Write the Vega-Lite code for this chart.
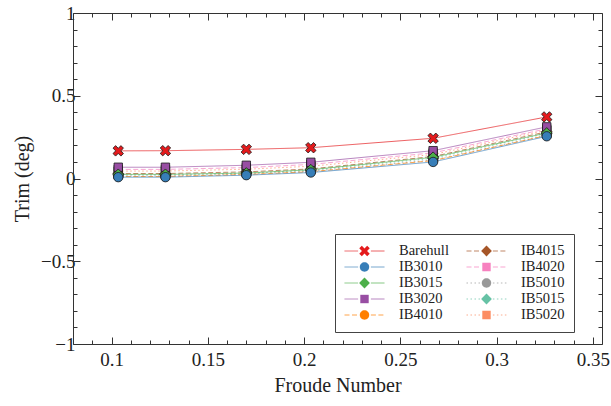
{
  "$schema": "https://vega.github.io/schema/vega-lite/v6.json",
  "autosize": {"type": "none"},
  "padding": {"left": 73, "top": 13, "right": 9, "bottom": 62},
  "width": 529,
  "height": 331,
  "background": "white",
  "data": {
    "values": [
      {"series": "IB5020", "fr": 0.1035, "trim": 0.045}, {"series": "IB5020", "fr": 0.128, "trim": 0.045}, {"series": "IB5020", "fr": 0.17, "trim": 0.056}, {"series": "IB5020", "fr": 0.2035, "trim": 0.074}, {"series": "IB5020", "fr": 0.267, "trim": 0.145}, {"series": "IB5020", "fr": 0.326, "trim": 0.292},
      {"series": "IB5015", "fr": 0.1035, "trim": 0.022}, {"series": "IB5015", "fr": 0.128, "trim": 0.022}, {"series": "IB5015", "fr": 0.17, "trim": 0.032}, {"series": "IB5015", "fr": 0.2035, "trim": 0.05}, {"series": "IB5015", "fr": 0.267, "trim": 0.122}, {"series": "IB5015", "fr": 0.326, "trim": 0.272},
      {"series": "IB5010", "fr": 0.1035, "trim": 0.015}, {"series": "IB5010", "fr": 0.128, "trim": 0.015}, {"series": "IB5010", "fr": 0.17, "trim": 0.027}, {"series": "IB5010", "fr": 0.2035, "trim": 0.044}, {"series": "IB5010", "fr": 0.267, "trim": 0.112}, {"series": "IB5010", "fr": 0.326, "trim": 0.262},
      {"series": "IB4020", "fr": 0.1035, "trim": 0.055}, {"series": "IB4020", "fr": 0.128, "trim": 0.055}, {"series": "IB4020", "fr": 0.17, "trim": 0.066}, {"series": "IB4020", "fr": 0.2035, "trim": 0.085}, {"series": "IB4020", "fr": 0.267, "trim": 0.155}, {"series": "IB4020", "fr": 0.326, "trim": 0.3},
      {"series": "IB4015", "fr": 0.1035, "trim": 0.03}, {"series": "IB4015", "fr": 0.128, "trim": 0.03}, {"series": "IB4015", "fr": 0.17, "trim": 0.04}, {"series": "IB4015", "fr": 0.2035, "trim": 0.058}, {"series": "IB4015", "fr": 0.267, "trim": 0.133}, {"series": "IB4015", "fr": 0.326, "trim": 0.282},
      {"series": "IB4010", "fr": 0.1035, "trim": 0.012}, {"series": "IB4010", "fr": 0.128, "trim": 0.012}, {"series": "IB4010", "fr": 0.17, "trim": 0.024}, {"series": "IB4010", "fr": 0.2035, "trim": 0.041}, {"series": "IB4010", "fr": 0.267, "trim": 0.108}, {"series": "IB4010", "fr": 0.326, "trim": 0.26},
      {"series": "Barehull", "fr": 0.1035, "trim": 0.167}, {"series": "Barehull", "fr": 0.128, "trim": 0.168}, {"series": "Barehull", "fr": 0.17, "trim": 0.176}, {"series": "Barehull", "fr": 0.2035, "trim": 0.186}, {"series": "Barehull", "fr": 0.267, "trim": 0.243}, {"series": "Barehull", "fr": 0.326, "trim": 0.372},
      {"series": "IB3020", "fr": 0.1035, "trim": 0.068}, {"series": "IB3020", "fr": 0.128, "trim": 0.068}, {"series": "IB3020", "fr": 0.17, "trim": 0.08}, {"series": "IB3020", "fr": 0.2035, "trim": 0.098}, {"series": "IB3020", "fr": 0.267, "trim": 0.168}, {"series": "IB3020", "fr": 0.326, "trim": 0.312},
      {"series": "IB3015", "fr": 0.1035, "trim": 0.025}, {"series": "IB3015", "fr": 0.128, "trim": 0.025}, {"series": "IB3015", "fr": 0.17, "trim": 0.033}, {"series": "IB3015", "fr": 0.2035, "trim": 0.053}, {"series": "IB3015", "fr": 0.267, "trim": 0.128}, {"series": "IB3015", "fr": 0.326, "trim": 0.275},
      {"series": "IB3010", "fr": 0.1035, "trim": 0.008}, {"series": "IB3010", "fr": 0.128, "trim": 0.008}, {"series": "IB3010", "fr": 0.17, "trim": 0.02}, {"series": "IB3010", "fr": 0.2035, "trim": 0.036}, {"series": "IB3010", "fr": 0.267, "trim": 0.1}, {"series": "IB3010", "fr": 0.326, "trim": 0.255}
    ]
  },
  "layer": [
    {
      "mark": {"type": "line", "strokeWidth": 1, "opacity": 0.7},
      "encoding": {
        "x": {
          "field": "fr", "type": "quantitative",
          "scale": {"domain": [0.08, 0.3547], "nice": false, "zero": false},
          "axis": {
            "orient": "bottom",
            "values": [0.08, 0.09, 0.1, 0.11, 0.12, 0.13, 0.14, 0.15, 0.16, 0.17, 0.18, 0.19, 0.2, 0.21, 0.22, 0.23, 0.24, 0.25, 0.26, 0.27, 0.28, 0.29, 0.3, 0.31, 0.32, 0.33, 0.34, 0.35],
            "format": ".2~f",
            "labelExpr": "abs(datum.value*20 - round(datum.value*20)) < 0.001 ? datum.label : ''",
            "tickSize": {"condition": {"test": "abs(datum.value*20 - round(datum.value*20)) < 0.001", "value": -7}, "value": -4},
            "labelFont": "Liberation Serif",
            "labelPadding": 13,
            "labelFlush": false,
            "labelOverlap": false,
            "title": "Froude Number",
            "titleFont": "Liberation Serif",
            "titleX": 264.5,
            "titleY": 41,
            "titleBaseline": "middle"
          }
        },
        "y": {
          "field": "trim", "type": "quantitative",
          "scale": {"domain": [-1, 1], "nice": false, "zero": false},
          "axis": {
            "orient": "left",
            "values": [-1, -0.9, -0.8, -0.7, -0.6, -0.5, -0.4, -0.3, -0.2, -0.1, 0, 0.1, 0.2, 0.3, 0.4, 0.5, 0.6, 0.7, 0.8, 0.9, 1],
            "format": ".1~f",
            "labelExpr": "abs(datum.value*2 - round(datum.value*2)) < 0.001 ? datum.label : ''",
            "tickSize": {"condition": {"test": "abs(datum.value*2 - round(datum.value*2)) < 0.001", "value": -7}, "value": -4},
            "labelFont": "Liberation Serif",
            "labelPadding": 5,
            "labelFlush": false,
            "labelOverlap": false,
            "title": "Trim (deg)",
            "titleFont": "Liberation Serif",
            "titleX": -51,
            "titleY": 165.5,
            "titleAlign": "center",
            "titleBaseline": "middle"
          }
        },
        "stroke": {
          "field": "series", "type": "nominal",
          "scale": {
            "domain": ["Barehull", "IB3010", "IB3015", "IB3020", "IB4010", "IB4015", "IB4020", "IB5010", "IB5015", "IB5020"],
            "range": ["#e41a1c", "#377eb8", "#4daf4a", "#984ea3", "#ff7f00", "#a65628", "#f781bf", "#999999", "#66c2a5", "#fc8d62"]
          },
          "legend": {
            "orient": "none", "legendX": 262, "legendY": 221, "columns": 2, "title": null,
            "symbolType": "M-1,0H-0.32M0.32,0H1", "symbolSize": 1600, "symbolStrokeWidth": 1,
            "labelFont": "Liberation Serif", "labelFontSize": 14.5, "labelOffset": 14, "labelBaseline": "middle",
            "columnPadding": 17, "rowPadding": 0, "clipHeight": 16, "padding": 9,
            "gridAlign": "all", "strokeColor": "#444", "fillColor": "white"
          }
        },
        "strokeDash": {
          "field": "series", "type": "nominal",
          "scale": {
            "domain": ["Barehull", "IB3010", "IB3015", "IB3020", "IB4010", "IB4015", "IB4020", "IB5010", "IB5015", "IB5020"],
            "range": [[1, 0], [1, 0], [1, 0], [1, 0], [5, 2.5], [5, 2.5], [5, 2.5], [1.5, 2.5], [1.5, 2.5], [1.5, 2.5]]
          },
          "legend": {
            "orient": "none", "legendX": 262, "legendY": 221, "columns": 2, "title": null,
            "symbolType": "M-1,0H-0.32M0.32,0H1", "symbolSize": 1600, "symbolStrokeWidth": 1,
            "labelFont": "Liberation Serif", "labelFontSize": 14.5, "labelOffset": 14, "labelBaseline": "middle",
            "columnPadding": 17, "rowPadding": 0, "clipHeight": 16, "padding": 9,
            "gridAlign": "all", "strokeColor": "#444", "fillColor": "white"
          }
        }
      }
    },
    {
      "mark": {"type": "point", "filled": true, "size": 1600, "stroke": "#1a1a1a", "strokeWidth": 0.8, "opacity": 1},
      "encoding": {
        "x": {
          "field": "fr", "type": "quantitative",
          "axis": {
            "orient": "top",
            "values": [0.08, 0.09, 0.1, 0.11, 0.12, 0.13, 0.14, 0.15, 0.16, 0.17, 0.18, 0.19, 0.2, 0.21, 0.22, 0.23, 0.24, 0.25, 0.26, 0.27, 0.28, 0.29, 0.3, 0.31, 0.32, 0.33, 0.34, 0.35],
            "labels": false,
            "title": null,
            "tickSize": {"condition": {"test": "abs(datum.value*20 - round(datum.value*20)) < 0.001", "value": -7}, "value": -4}
          }
        },
        "y": {
          "field": "trim", "type": "quantitative",
          "axis": {
            "orient": "right",
            "values": [-1, -0.9, -0.8, -0.7, -0.6, -0.5, -0.4, -0.3, -0.2, -0.1, 0, 0.1, 0.2, 0.3, 0.4, 0.5, 0.6, 0.7, 0.8, 0.9, 1],
            "labels": false,
            "title": null,
            "tickSize": {"condition": {"test": "abs(datum.value*2 - round(datum.value*2)) < 0.001", "value": -7}, "value": -4}
          }
        },
        "fill": {
          "field": "series", "type": "nominal",
          "scale": {
            "domain": ["Barehull", "IB3010", "IB3015", "IB3020", "IB4010", "IB4015", "IB4020", "IB5010", "IB5015", "IB5020"],
            "range": ["#e41a1c", "#377eb8", "#4daf4a", "#984ea3", "#ff7f00", "#a65628", "#f781bf", "#999999", "#66c2a5", "#fc8d62"]
          },
          "legend": {
            "orient": "none", "legendX": 262, "legendY": 221, "columns": 2, "title": null,
            "symbolSize": 1600, "symbolStrokeWidth": 0.8, "symbolStrokeColor": "#1a1a1a", "symbolOpacity": 1,
            "labelFont": "Liberation Serif", "labelFontSize": 14.5, "labelOffset": 14, "labelBaseline": "middle", "labelOpacity": 0,
            "columnPadding": 17, "rowPadding": 0, "clipHeight": 16, "padding": 9,
            "gridAlign": "all"
          }
        },
        "shape": {
          "field": "series", "type": "nominal",
          "scale": {
            "domain": ["Barehull", "IB3010", "IB3015", "IB3020", "IB4010", "IB4015", "IB4020", "IB5010", "IB5015", "IB5020"],
            "range": [
              "M0.134,-0.262L0.262,-0.134L0.127,0L0.262,0.134L0.134,0.262L0,0.127L-0.134,0.262L-0.262,0.134L-0.127,0L-0.262,-0.134L-0.134,-0.262L0,-0.127Z",
              "M-0.235,0A0.235,0.235,0,1,0,0.235,0A0.235,0.235,0,1,0,-0.235,0Z",
              "M0,-0.27L0.27,0L0,0.27L-0.27,0Z",
              "M-0.21,-0.21H0.21V0.21H-0.21Z",
              "M-0.235,0A0.235,0.235,0,1,0,0.235,0A0.235,0.235,0,1,0,-0.235,0Z",
              "M0,-0.27L0.27,0L0,0.27L-0.27,0Z",
              "M-0.21,-0.21H0.21V0.21H-0.21Z",
              "M-0.235,0A0.235,0.235,0,1,0,0.235,0A0.235,0.235,0,1,0,-0.235,0Z",
              "M0,-0.27L0.27,0L0,0.27L-0.27,0Z",
              "M-0.21,-0.21H0.21V0.21H-0.21Z"
            ]
          },
          "legend": {
            "orient": "none", "legendX": 262, "legendY": 221, "columns": 2, "title": null,
            "symbolSize": 1600, "symbolStrokeWidth": 0.8, "symbolStrokeColor": "#1a1a1a", "symbolOpacity": 1,
            "labelFont": "Liberation Serif", "labelFontSize": 14.5, "labelOffset": 14, "labelBaseline": "middle", "labelOpacity": 0,
            "columnPadding": 17, "rowPadding": 0, "clipHeight": 16, "padding": 9,
            "gridAlign": "all"
          }
        }
      }
    }
  ],
  "resolve": {
    "axis": {"x": "independent", "y": "independent"},
    "legend": {"stroke": "independent", "strokeDash": "independent", "fill": "independent", "shape": "independent"}
  },
  "config": {
    "font": "Liberation Serif",
    "view": {"stroke": null},
    "axis": {
      "grid": false,
      "domainColor": "#333333",
      "domainWidth": 1,
      "tickColor": "#333333",
      "tickWidth": 1,
      "labelColor": "#222222",
      "titleColor": "#222222",
      "labelFont": "Liberation Serif",
      "titleFont": "Liberation Serif",
      "labelFontSize": 19,
      "titleFontSize": 20,
      "titleFontWeight": "normal"
    },
    "legend": {
      "labelFont": "Liberation Serif",
      "labelColor": "#222222"
    }
  }
}
